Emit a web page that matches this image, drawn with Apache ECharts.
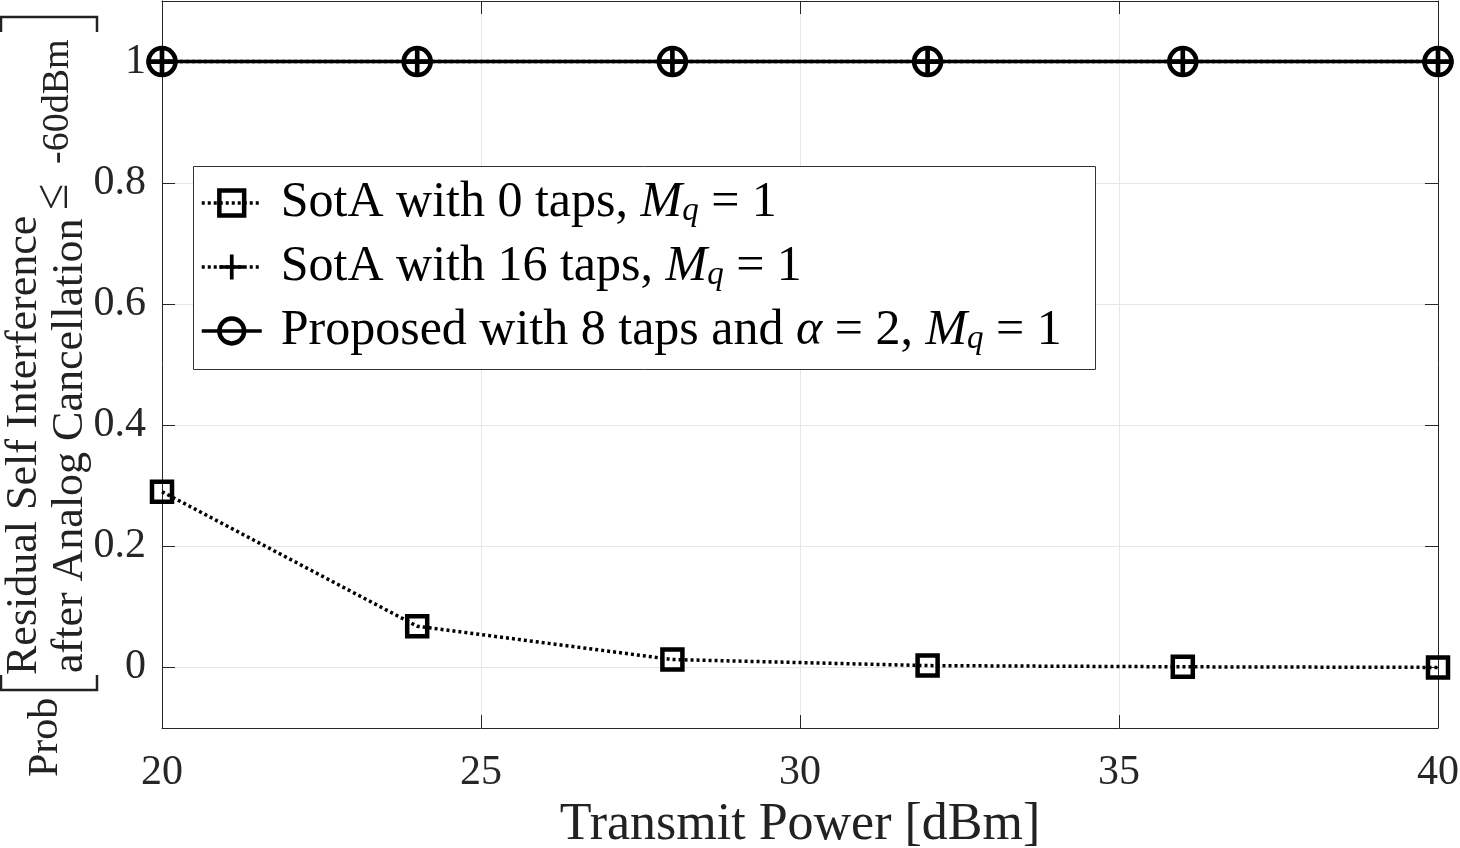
<!DOCTYPE html>
<html>
<head>
<meta charset="utf-8">
<script src="https://cdn.jsdelivr.net/npm/echarts@6/dist/echarts.min.js"></script>
<style>
  html, body { margin: 0; padding: 0; background: #fff; }
  #chart { width: 1460px; height: 848px; }
</style>
</head>
<body>
<div id="chart"></div>
<script>
// transmit power [dBm]
var txPower = [20, 24, 28, 32, 36, 40];
// probability values
var sota0 = [0.29, 0.068, 0.013, 0.003, 0.001, 0.0];
var sota16 = [1, 1, 1, 1, 1, 1];
var proposed = [1, 1, 1, 1, 1, 1];
var seriesNames = [
	'SotA with 0 taps, Mq = 1',
	'SotA with 16 taps, Mq = 1',
	'Proposed with 8 taps and α = 2, Mq = 1'
];
var yTicks = [0, 0.2, 0.4, 0.6, 0.8, 1];

var serif = 'Liberation Serif';
var axisColor = '#262626';

function pairs(vals) {
	var res = [];
	for (var i = 0; i < txPower.length; i++) {
		res.push([txPower[i], vals[i]]);
	}
	return res;
}

// turn "Mq" into M with subscript q, alpha in italic
function richName(name) {
	var parts = name.split('Mq');
	var head = parts[0].replace('α', '}{i|α}{n|');
	return '{n|' + head + '}{i|M}{s|q}{n|' + parts[1] + '}';
}

function vtext(str, u, v, size) {
	return {
		type: 'text',
		style: {
			text: str, x: u, y: v,
			fontFamily: serif, fontSize: size,
			fill: '#222', align: 'left', verticalAlign: 'middle'
		}
	};
}

var plusPath = 'path://M-1.5,-10 L1.5,-10 L1.5,-1.5 L10,-1.5 L10,1.5 L1.5,1.5 L1.5,10 L-1.5,10 L-1.5,1.5 L-10,1.5 L-10,-1.5 L-1.5,-1.5 Z';

var myChart = echarts.init(document.getElementById('chart'));

var option = {
	animation: false,
	backgroundColor: '#fff',
	grid: {
		left: 162,
		right: 22,
		top: 1,
		bottom: 120,
		outerBoundsMode: 'none'
	},
	xAxis: [{
		type: 'value',
		min: 20,
		max: 40,
		interval: 5,
		name: 'Transmit Power [dBm]',
		nameLocation: 'middle',
		nameGap: 66,
		nameTextStyle: { fontFamily: serif, fontSize: 52, color: '#222' },
		axisLine: { show: true, onZero: false, lineStyle: { color: axisColor, width: 1 } },
		axisTick: { show: true, inside: true, length: 13, lineStyle: { color: axisColor } },
		axisLabel: { fontFamily: serif, fontSize: 42, color: axisColor, margin: 24 },
		splitLine: { show: true, lineStyle: { color: '#e6e6e6', width: 1 } }
	}, {
		type: 'value',
		position: 'top',
		min: 20,
		max: 40,
		interval: 5,
		axisLine: { show: true, onZero: false, lineStyle: { color: axisColor, width: 1 } },
		axisTick: { show: true, inside: true, length: 13, lineStyle: { color: axisColor } },
		axisLabel: { show: false },
		splitLine: { show: false }
	}],
	yAxis: [{
		type: 'value',
		min: -0.1,
		max: 1.1,
		axisLine: { show: true, onZero: false, lineStyle: { color: axisColor, width: 1 } },
		axisTick: { show: true, inside: true, length: 13, customValues: yTicks, lineStyle: { color: axisColor } },
		axisLabel: { fontFamily: serif, fontSize: 42, color: axisColor, margin: 16, customValues: yTicks },
		splitLine: { show: true, lineStyle: { color: '#e6e6e6', width: 1 } }
	}, {
		type: 'value',
		position: 'right',
		min: -0.1,
		max: 1.1,
		axisLine: { show: true, onZero: false, lineStyle: { color: axisColor, width: 1 } },
		axisTick: { show: true, inside: true, length: 13, customValues: yTicks, lineStyle: { color: axisColor } },
		axisLabel: { show: false, customValues: yTicks },
		splitLine: { show: false }
	}],
	legend: {
		orient: 'vertical',
		left: 200,
		top: 178,
		padding: 0,
		itemWidth: 60,
		itemHeight: 31,
		itemGap: 14,
		z: 5,
		data: [{
			name: seriesNames[0],
			itemStyle: { color: 'transparent', borderColor: '#000', borderWidth: 4.5 },
			lineStyle: { color: '#000', width: 3.5, type: [3, 3] }
		}, {
			name: seriesNames[1],
			itemStyle: { color: '#000', borderWidth: 0 },
			lineStyle: { color: '#000', width: 3.5, type: [3, 3] }
		}, {
			name: seriesNames[2],
			itemStyle: { color: 'transparent', borderColor: '#000', borderWidth: 4.5 },
			lineStyle: { color: '#000', width: 3.5, type: 'solid' }
		}],
		formatter: function (name) {
			return richName(name);
		},
		textStyle: {
			padding: [0, 0, 0, 14],
			rich: {
				n: { fontFamily: serif, fontSize: 50, color: '#000', lineHeight: 50 },
				i: { fontFamily: serif, fontSize: 50, fontStyle: 'italic', color: '#000', lineHeight: 50 },
				s: { fontFamily: serif, fontSize: 33, fontStyle: 'italic', color: '#000', lineHeight: 26, verticalAlign: 'bottom' }
			}
		}
	},
	graphic: [
		// legend box
		{
			type: 'rect',
			z: 3,
			shape: { x: 193.5, y: 166.5, width: 902, height: 203 },
			style: { fill: '#fff', stroke: '#333', lineWidth: 1 }
		},
		// brackets of the y label
		{
			type: 'polyline',
			shape: { points: [[1, 32], [1, 17], [97, 17], [97, 32]] },
			style: { stroke: '#222', fill: null, lineWidth: 2.5 }
		},
		{
			type: 'polyline',
			shape: { points: [[1, 675], [1, 690], [97, 690], [97, 675]] },
			style: { stroke: '#222', fill: null, lineWidth: 2.5 }
		},
		{
			type: 'group',
			x: 0,
			y: 848,
			rotation: Math.PI / 2,
			children: [
				vtext('Prob', 71, 46, 42),
				vtext('Residual Self Interference', 173, 24, 44),
				vtext('after Analog Cancellation', 175, 70, 44),
				vtext('≤', 638, 54, 48),
				vtext('-60dBm', 684, 58, 38)
			]
		}
	],
	series: [{
		name: seriesNames[0],
		type: 'line',
		data: pairs(sota0),
		symbol: 'rect',
		symbolSize: 20,
		itemStyle: { color: 'transparent', borderColor: '#000', borderWidth: 4.5 },
		lineStyle: { color: '#000', width: 3.5, type: [3, 3] },
		z: 2
	}, {
		name: seriesNames[1],
		type: 'line',
		data: pairs(sota16),
		symbol: plusPath,
		symbolSize: 31,
		itemStyle: { color: '#000', borderWidth: 0 },
		lineStyle: { color: '#000', width: 3.5, type: [3, 3] },
		z: 4
	}, {
		name: seriesNames[2],
		type: 'line',
		data: pairs(proposed),
		symbol: 'circle',
		symbolSize: 27,
		itemStyle: { color: 'transparent', borderColor: '#000', borderWidth: 4.5 },
		lineStyle: { color: '#000', width: 3.5, type: 'solid' },
		z: 3
	}]
};

myChart.setOption(option);
</script>
</body>
</html>
